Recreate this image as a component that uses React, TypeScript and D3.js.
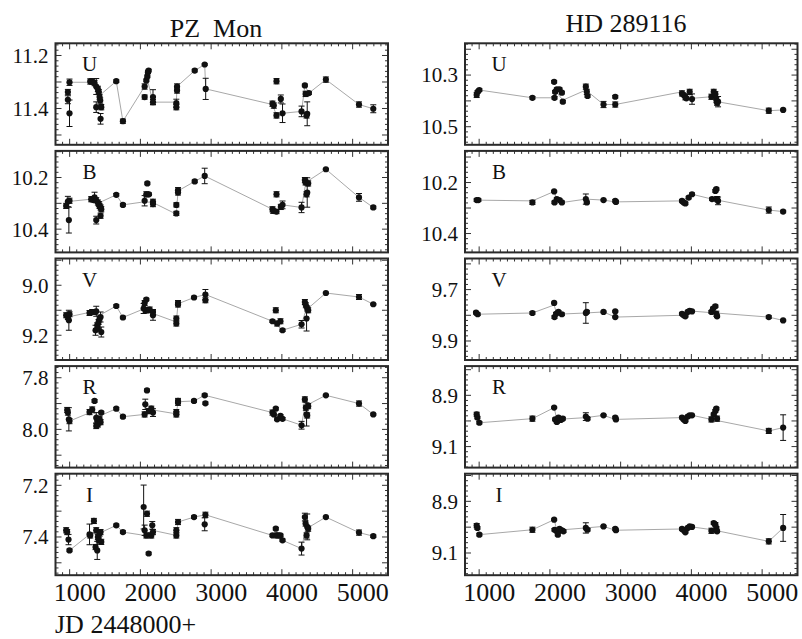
import React from 'react';
import * as d3 from 'd3';

type Pt = [number, number, number]; // [JD-2448000, mag, error]
type LP = [number, number]; // line vertex [JD-2448000, mag]

const JD_DOMAIN: [number, number] = [800, 5500];
const xTickLabels = [1000, 2000, 3000, 4000, 5000];
const bands = ['U', 'B', 'V', 'R', 'I'];
const starNames = ['PZ  Mon', 'HD 289116'];
const xAxisTitle = 'JD 2448000+';

// ---------- PZ Mon ----------
const pzU: Pt[] = [
  [975, 11.338, 0.01], [975, 11.367, 0.015], [998, 11.418, 0.05], [998, 11.301, 0.012],
  [1291, 11.298, 0.01], [1319, 11.298, 0.01], [1352, 11.304, 0.01], [1376, 11.317, 0.03],
  [1399, 11.326, 0.01], [1413, 11.338, 0.01], [1423, 11.357, 0.01], [1432, 11.37, 0.01],
  [1376, 11.395, 0.02], [1447, 11.395, 0.01], [1437, 11.439, 0.02], [1659, 11.297, 0.005],
  [1753, 11.448, 0.008], [2060, 11.317, 0.01], [2084, 11.294, 0.005], [2098, 11.279, 0.005],
  [2107, 11.263, 0.005], [2117, 11.257, 0.005], [2060, 11.357, 0.008], [2178, 11.357, 0.028],
  [2178, 11.376, 0.01], [2518, 11.317, 0.01], [2518, 11.332, 0.01], [2508, 11.38, 0.015],
  [2508, 11.395, 0.01], [2768, 11.257, 0.005], [2909, 11.234, 0.003], [2923, 11.326, 0.04],
  [3867, 11.382, 0.01], [3886, 11.389, 0.01], [3924, 11.297, 0.01], [3924, 11.426, 0.01],
  [3985, 11.364, 0.015], [4009, 11.418, 0.035], [4278, 11.411, 0.02], [4325, 11.313, 0.005],
  [4335, 11.345, 0.01], [4358, 11.42, 0.045], [4382, 11.342, 0.005], [4349, 11.426, 0.01],
  [4622, 11.291, 0.01], [5090, 11.385, 0.01], [5292, 11.401, 0.015],
];
const pzULine: LP[] = [
  [998, 11.301], [1291, 11.301], [1423, 11.351], [1659, 11.297], [1753, 11.448], [2060, 11.317],
  [2107, 11.3], [2178, 11.376], [2508, 11.376], [2518, 11.317], [2768, 11.257], [2909, 11.234],
  [2923, 11.326], [3867, 11.385], [3924, 11.426], [4009, 11.418], [4278, 11.411], [4325, 11.313],
  [4382, 11.342], [4622, 11.291], [5090, 11.385], [5292, 11.401],
];

const pzB: Pt[] = [
  [951, 10.31, 0.01], [975, 10.293, 0.02], [998, 10.29, 0.01], [989, 10.365, 0.05],
  [1305, 10.284, 0.01], [1328, 10.284, 0.01], [1352, 10.277, 0.02], [1376, 10.288, 0.01],
  [1399, 10.297, 0.01], [1413, 10.303, 0.01], [1423, 10.31, 0.01], [1437, 10.316, 0.01],
  [1447, 10.323, 0.01], [1376, 10.365, 0.015], [1437, 10.348, 0.01], [1659, 10.267, 0.005],
  [1753, 10.306, 0.005], [2060, 10.29, 0.02], [2084, 10.265, 0.01], [2098, 10.223, 0.005],
  [2121, 10.265, 0.005], [2178, 10.294, 0.01], [2178, 10.303, 0.01], [2508, 10.339, 0.008],
  [2508, 10.306, 0.008], [2532, 10.249, 0.01], [2532, 10.258, 0.01], [2768, 10.215, 0.005],
  [2909, 10.194, 0.03], [3867, 10.323, 0.01], [3877, 10.329, 0.01], [3924, 10.265, 0.01],
  [3924, 10.332, 0.008], [3985, 10.314, 0.01], [4009, 10.306, 0.015], [4278, 10.316, 0.02],
  [4325, 10.21, 0.01], [4335, 10.219, 0.01], [4349, 10.265, 0.01], [4358, 10.258, 0.057],
  [4372, 10.223, 0.01], [4622, 10.168, 0.003], [5090, 10.277, 0.015], [5292, 10.316, 0.005],
];
const pzBLine: LP[] = [
  [975, 10.293], [1305, 10.284], [1423, 10.297], [1659, 10.267], [1753, 10.306], [2060, 10.294],
  [2178, 10.297], [2508, 10.342], [2532, 10.252], [2768, 10.215], [2909, 10.194], [3867, 10.323],
  [3924, 10.335], [4009, 10.306], [4278, 10.316], [4339, 10.219], [4622, 10.168], [5090, 10.277],
  [5292, 10.316],
];

const pzV: Pt[] = [
  [951, 9.12, 0.01], [975, 9.127, 0.01], [989, 9.14, 0.04], [998, 9.116, 0.01],
  [1281, 9.111, 0.01], [1319, 9.107, 0.01], [1352, 9.107, 0.01], [1376, 9.104, 0.02],
  [1366, 9.18, 0.02], [1390, 9.16, 0.01], [1409, 9.147, 0.01], [1423, 9.133, 0.01],
  [1437, 9.127, 0.02], [1447, 9.187, 0.02], [1399, 9.173, 0.01], [1659, 9.083, 0.005],
  [1753, 9.129, 0.005], [2046, 9.093, 0.02], [2060, 9.071, 0.01], [2084, 9.057, 0.005],
  [2074, 9.1, 0.01], [2107, 9.1, 0.01], [2131, 9.097, 0.01], [2178, 9.107, 0.01],
  [2178, 9.12, 0.02], [2508, 9.133, 0.01], [2508, 9.153, 0.01], [2532, 9.071, 0.01],
  [2532, 9.077, 0.01], [2758, 9.049, 0.005], [2919, 9.037, 0.02], [2919, 9.06, 0.01],
  [3867, 9.144, 0.005], [3914, 9.1, 0.01], [3933, 9.153, 0.01], [3980, 9.144, 0.01],
  [4009, 9.18, 0.005], [4278, 9.156, 0.015], [4325, 9.067, 0.01], [4339, 9.08, 0.01],
  [4349, 9.133, 0.05], [4358, 9.093, 0.01], [4372, 9.1, 0.01], [4622, 9.031, 0.003],
  [5090, 9.047, 0.01], [5292, 9.076, 0.003],
];
const pzVLine: LP[] = [
  [975, 9.127], [1305, 9.107], [1423, 9.12], [1659, 9.083], [1753, 9.129], [2060, 9.093],
  [2178, 9.113], [2508, 9.147], [2532, 9.074], [2758, 9.049], [2919, 9.037], [3867, 9.144],
  [4009, 9.18], [4278, 9.156], [4339, 9.1], [4622, 9.031], [5090, 9.047], [5292, 9.076],
];

const pzR: Pt[] = [
  [965, 7.925, 0.01], [975, 7.935, 0.01], [989, 7.961, 0.045], [998, 7.968, 0.01],
  [1281, 7.933, 0.01], [1319, 7.923, 0.01], [1352, 7.89, 0.005], [1376, 7.955, 0.02],
  [1390, 7.968, 0.01], [1399, 7.981, 0.01], [1376, 7.987, 0.01], [1423, 7.959, 0.01],
  [1447, 7.935, 0.005], [1437, 7.972, 0.01], [1659, 7.92, 0.005], [1753, 7.951, 0.005],
  [2060, 7.942, 0.01], [2069, 7.903, 0.02], [2093, 7.849, 0.005], [2121, 7.929, 0.01],
  [2154, 7.92, 0.01], [2178, 7.935, 0.015], [2508, 7.942, 0.01], [2508, 7.933, 0.01],
  [2532, 7.89, 0.01], [2532, 7.897, 0.01], [2758, 7.89, 0.005], [2909, 7.868, 0.005],
  [2919, 7.899, 0.005], [3867, 7.935, 0.01], [3886, 7.942, 0.005], [3914, 7.92, 0.005],
  [3933, 7.961, 0.005], [3980, 7.948, 0.005], [4009, 7.959, 0.005], [4278, 7.984, 0.015],
  [4325, 7.884, 0.01], [4339, 7.916, 0.01], [4349, 7.942, 0.045], [4358, 7.946, 0.01],
  [4372, 7.91, 0.01], [4622, 7.868, 0.003], [5090, 7.9, 0.01], [5292, 7.942, 0.003],
];
const pzRLine: LP[] = [
  [998, 7.968], [1305, 7.933], [1423, 7.948], [1659, 7.92], [1753, 7.951], [2060, 7.942],
  [2107, 7.92], [2178, 7.925], [2508, 7.94], [2532, 7.893], [2758, 7.89], [2909, 7.868],
  [3867, 7.935], [4009, 7.959], [4278, 7.984], [4325, 7.91], [4622, 7.868], [5090, 7.9],
  [5292, 7.942],
];

const pzI: Pt[] = [
  [951, 7.374, 0.01], [965, 7.381, 0.01], [984, 7.41, 0.02], [998, 7.452, 0.005],
  [1281, 7.39, 0.04], [1291, 7.394, 0.01], [1343, 7.338, 0.01], [1366, 7.439, 0.01],
  [1390, 7.452, 0.035], [1376, 7.374, 0.01], [1399, 7.4, 0.01], [1413, 7.413, 0.01],
  [1423, 7.387, 0.01], [1437, 7.381, 0.01], [1447, 7.419, 0.01], [1659, 7.355, 0.005],
  [1753, 7.381, 0.005], [2046, 7.284, 0.085], [2093, 7.31, 0.01], [2060, 7.374, 0.02],
  [2084, 7.394, 0.01], [2117, 7.464, 0.005], [2154, 7.394, 0.01], [2168, 7.355, 0.015],
  [2178, 7.381, 0.01], [2508, 7.394, 0.01], [2508, 7.374, 0.01], [2532, 7.342, 0.01],
  [2758, 7.323, 0.005], [2919, 7.314, 0.01], [2909, 7.351, 0.025], [3867, 7.394, 0.005],
  [3914, 7.368, 0.005], [3933, 7.394, 0.01], [3980, 7.394, 0.005], [4009, 7.413, 0.005],
  [4278, 7.445, 0.025], [4325, 7.323, 0.015], [4335, 7.348, 0.01], [4349, 7.394, 0.01],
  [4358, 7.361, 0.05], [4372, 7.368, 0.01], [4622, 7.323, 0.003], [5090, 7.383, 0.01],
  [5292, 7.397, 0.005],
];
const pzILine: LP[] = [
  [998, 7.452], [1281, 7.39], [1423, 7.385], [1659, 7.355], [1753, 7.381], [2060, 7.394],
  [2168, 7.374], [2508, 7.394], [2532, 7.342], [2758, 7.323], [2919, 7.314], [3867, 7.394],
  [4009, 7.413], [4278, 7.445], [4335, 7.37], [4622, 7.323], [5090, 7.383], [5292, 7.397],
];

// ---------- HD 289116 ----------
const hdU: Pt[] = [
  [965, 10.377, 0.01], [979, 10.365, 0.005], [1003, 10.358, 0.005], [1753, 10.388, 0.005],
  [2060, 10.326, 0.005], [2065, 10.388, 0.005], [2074, 10.365, 0.005], [2098, 10.355, 0.005],
  [2136, 10.355, 0.005], [2169, 10.368, 0.005], [2183, 10.403, 0.005], [2508, 10.345, 0.01],
  [2522, 10.365, 0.01], [2532, 10.381, 0.005], [2758, 10.414, 0.012], [2924, 10.384, 0.005],
  [2924, 10.414, 0.01], [3867, 10.371, 0.01], [3891, 10.377, 0.005], [3915, 10.386, 0.01],
  [3929, 10.39, 0.005], [3976, 10.365, 0.01], [4009, 10.393, 0.02], [4283, 10.384, 0.01],
  [4316, 10.365, 0.01], [4339, 10.374, 0.01], [4353, 10.397, 0.01], [4363, 10.407, 0.01],
  [4377, 10.403, 0.02], [5094, 10.438, 0.01], [5297, 10.435, 0.003],
];
const hdULine: LP[] = [
  [1003, 10.358], [1753, 10.388], [2065, 10.388], [2098, 10.368], [2183, 10.397], [2508, 10.358],
  [2758, 10.414], [2924, 10.414], [3867, 10.365], [3976, 10.377], [4009, 10.39], [4283, 10.384],
  [4363, 10.403], [5094, 10.438], [5297, 10.435],
];

const hdB: Pt[] = [
  [965, 10.269, 0.005], [989, 10.269, 0.005], [1753, 10.278, 0.008], [2060, 10.235, 0.003],
  [2065, 10.278, 0.005], [2098, 10.265, 0.005], [2136, 10.269, 0.005], [2169, 10.278, 0.005],
  [2508, 10.265, 0.02], [2522, 10.278, 0.005], [2758, 10.269, 0.003], [2924, 10.272, 0.005],
  [2933, 10.276, 0.005], [3867, 10.272, 0.005], [3891, 10.278, 0.005], [3915, 10.282, 0.005],
  [3962, 10.259, 0.005], [4009, 10.246, 0.005], [4292, 10.265, 0.005], [4339, 10.233, 0.005],
  [4353, 10.226, 0.005], [4363, 10.265, 0.01], [4377, 10.272, 0.015], [5094, 10.308, 0.012],
  [5297, 10.314, 0.005],
];
const hdBLine: LP[] = [
  [965, 10.269], [1753, 10.272], [2060, 10.235], [2098, 10.272], [2183, 10.278], [2508, 10.265],
  [2758, 10.269], [2924, 10.276], [3867, 10.272], [4009, 10.246], [4292, 10.265], [5094, 10.308],
  [5297, 10.314],
];

const hdV: Pt[] = [
  [956, 9.79, 0.005], [979, 9.796, 0.005], [1753, 9.791, 0.005], [2060, 9.752, 0.003],
  [2065, 9.807, 0.005], [2088, 9.794, 0.005], [2121, 9.787, 0.005], [2169, 9.796, 0.005],
  [2508, 9.791, 0.04], [2522, 9.787, 0.005], [2758, 9.787, 0.003], [2924, 9.785, 0.003],
  [2924, 9.807, 0.003], [3867, 9.794, 0.005], [3891, 9.8, 0.005], [3915, 9.804, 0.003],
  [3948, 9.787, 0.003], [3976, 9.783, 0.003], [4009, 9.785, 0.003], [4283, 9.787, 0.005],
  [4306, 9.774, 0.005], [4339, 9.765, 0.005], [4353, 9.794, 0.01], [4363, 9.804, 0.005],
  [5094, 9.807, 0.005], [5297, 9.82, 0.003],
];
const hdVLine: LP[] = [
  [965, 9.796], [1753, 9.791], [2060, 9.76], [2098, 9.796], [2508, 9.791], [2758, 9.787],
  [2924, 9.807], [3867, 9.8], [3976, 9.783], [4292, 9.79], [5094, 9.807], [5297, 9.82],
];

const hdR: Pt[] = [
  [965, 8.974, 0.008], [975, 8.987, 0.005], [1003, 9.007, 0.005], [1753, 8.991, 0.01],
  [2060, 8.948, 0.003], [2074, 8.994, 0.005], [2098, 9.004, 0.005], [2121, 8.987, 0.005],
  [2154, 8.996, 0.005], [2183, 8.991, 0.005], [2508, 8.983, 0.015], [2532, 8.991, 0.005],
  [2758, 8.978, 0.003], [2924, 8.987, 0.005], [2933, 8.994, 0.005], [3867, 8.987, 0.005],
  [3891, 8.994, 0.005], [3915, 9.0, 0.003], [3948, 8.983, 0.003], [3976, 8.978, 0.003],
  [4009, 8.978, 0.003], [4283, 8.994, 0.01], [4316, 8.974, 0.005], [4339, 8.961, 0.005],
  [4353, 8.952, 0.005], [4363, 8.991, 0.01], [5094, 9.039, 0.01], [5297, 9.026, 0.05],
];
const hdRLine: LP[] = [
  [1003, 9.007], [1753, 8.991], [2060, 8.948], [2098, 8.994], [2508, 8.987], [2758, 8.978],
  [2924, 8.994], [3867, 8.987], [4009, 8.978], [4283, 8.994], [5094, 9.039], [5297, 9.026],
];

const hdI: Pt[] = [
  [965, 8.994, 0.008], [975, 9.003, 0.005], [1003, 9.029, 0.005], [1753, 9.01, 0.01],
  [2060, 8.971, 0.003], [2065, 9.01, 0.005], [2098, 9.016, 0.005], [2112, 9.029, 0.005],
  [2136, 9.007, 0.005], [2169, 9.012, 0.005], [2192, 9.016, 0.005], [2508, 9.003, 0.02],
  [2532, 9.01, 0.005], [2758, 8.997, 0.003], [2924, 9.007, 0.005], [2933, 9.012, 0.005],
  [3867, 9.007, 0.005], [3891, 9.012, 0.005], [3915, 9.02, 0.003], [3948, 9.003, 0.003],
  [3976, 8.997, 0.003], [4009, 8.999, 0.003], [4283, 9.014, 0.01], [4316, 8.984, 0.005],
  [4339, 8.99, 0.008], [4353, 9.003, 0.005], [4363, 9.016, 0.005], [5094, 9.055, 0.01],
  [5297, 9.003, 0.052],
];
const hdILine: LP[] = [
  [1003, 9.029], [1753, 9.01], [2060, 8.971], [2098, 9.012], [2508, 9.003], [2758, 8.997],
  [2924, 9.012], [3867, 9.007], [4009, 8.999], [4292, 9.01], [5094, 9.055], [5297, 9.003],
];

// y-axis ranges (magnitudes, inverted: smaller at top) and labelled ticks
const pzYDomains: [number, number][] = [
  [11.154, 11.537], [10.097, 10.49], [8.893, 9.299], [7.755, 8.148], [7.155, 7.548],
];
const pzYLabels: number[][] = [[11.2, 11.4], [10.2, 10.4], [9.0, 9.2], [7.8, 8.0], [7.2, 7.4]];
const hdYDomains: [number, number][] = [
  [10.177, 10.57], [10.076, 10.474], [9.579, 9.974], [8.786, 9.182], [8.793, 9.186],
];
const hdYLabels: number[][] = [[10.3, 10.5], [10.2, 10.4], [9.7, 9.9], [8.9, 9.1], [8.9, 9.1]];

const pzPoints = [pzU, pzB, pzV, pzR, pzI];
const pzLines = [pzULine, pzBLine, pzVLine, pzRLine, pzILine];
const hdPoints = [hdU, hdB, hdV, hdR, hdI];
const hdLines = [hdULine, hdBLine, hdVLine, hdRLine, hdILine];

// ---------- layout ----------
const W = 802;
const H = 639;
const FONT = 'Liberation Serif, Times New Roman, DejaVu Serif, serif';
const colX = [55.5, 465];
const colW = 332.5;
const panelTop0 = 43.3;
const panelStep = 107.6;
const panelH = 101.5;

interface PanelProps {
  x0: number; y0: number; domainY: [number, number]; labels: number[];
  band: string; pts: Pt[]; line: LP[]; showX: boolean;
}

function Panel({ x0, y0, domainY, labels, band, pts, line, showX }: PanelProps) {
  const xs = d3.scaleLinear().domain(JD_DOMAIN).range([x0, x0 + colW]);
  const ys = d3.scaleLinear().domain(domainY).range([y0, y0 + panelH]);
  const path = d3.line<LP>().x(d => xs(d[0])).y(d => ys(d[1]))(line) || '';

  const xt: { v: number; major: boolean }[] = [];
  for (let k = Math.ceil(JD_DOMAIN[0] / 100); k <= Math.floor(JD_DOMAIN[1] / 100); k++) {
    xt.push({ v: k * 100, major: k % 10 === 0 });
  }
  const yt: { v: number; major: boolean }[] = [];
  for (let k = Math.ceil(domainY[0] / 0.02 - 1e-6); k <= Math.floor(domainY[1] / 0.02 + 1e-6); k++) {
    yt.push({ v: k * 0.02, major: k % 5 === 0 });
  }
  const bottom = y0 + panelH;
  const right = x0 + colW;
  const tickCol = '#333';

  return (
    <g>
      <rect x={x0} y={y0} width={colW} height={panelH} fill="#fff" />
      <path d={path} fill="none" stroke="#a8a8a8" strokeWidth={1} />
      {pts.map((p, i) => {
        const cx = xs(p[0]);
        const y1 = ys(p[1] - p[2]);
        const y2 = ys(p[1] + p[2]);
        return (
          <g key={'e' + i} stroke="#111" strokeWidth={1}>
            <line x1={cx} x2={cx} y1={y1} y2={y2} />
            <line x1={cx - 3} x2={cx + 3} y1={y1} y2={y1} />
            <line x1={cx - 3} x2={cx + 3} y1={y2} y2={y2} />
          </g>
        );
      })}
      {pts.map((p, i) => (
        <circle key={'p' + i} cx={xs(p[0])} cy={ys(p[1])} r={3.1} fill="#111" />
      ))}
      {xt.map((t, i) => {
        const len = t.major ? 6 : 3;
        const x = xs(t.v);
        return (
          <g key={'xt' + i} stroke={tickCol} strokeWidth={1}>
            <line x1={x} x2={x} y1={bottom} y2={bottom - len} />
            <line x1={x} x2={x} y1={y0} y2={y0 + len} />
          </g>
        );
      })}
      {yt.map((t, i) => {
        const len = t.major ? 6 : 3;
        const y = ys(t.v);
        return (
          <g key={'yt' + i} stroke={tickCol} strokeWidth={1}>
            <line x1={x0} x2={x0 + len} y1={y} y2={y} />
            <line x1={right} x2={right - len} y1={y} y2={y} />
          </g>
        );
      })}
      <rect x={x0} y={y0} width={colW} height={panelH} fill="none" stroke="#2a2a2a" strokeWidth={2} />
      {labels.map((v, i) => (
        <text key={'yl' + i} x={x0 - 7} y={ys(v)} dy="0.35em" textAnchor="end"
          fontFamily={FONT} fontSize={21} fill="#111">{v.toFixed(1)}</text>
      ))}
      <text x={x0 + 34} y={y0 + 28} textAnchor="middle" fontFamily={FONT} fontSize={21} fill="#111">{band}</text>
      {showX && xTickLabels.map((v, i) => (
        <text key={'xl' + i} x={xs(v) + 10} y={bottom + 26} textAnchor="middle"
          fontFamily={FONT} fontSize={26} fill="#111">{v}</text>
      ))}
    </g>
  );
}

export default function App() {
  return (
    <svg width={W} height={H} viewBox={`0 0 ${W} ${H}`}
      style={{ display: 'block', background: '#fff', position: 'absolute', left: 0, top: 0 }}>
      <text x={216} y={37} textAnchor="middle" fontFamily={FONT} fontSize={26} fill="#111"
        style={{ whiteSpace: 'pre' }}>{starNames[0]}</text>
      <text x={626} y={32} textAnchor="middle" fontFamily={FONT} fontSize={26} fill="#111">{starNames[1]}</text>
      {bands.map((b, i) => (
        <Panel key={'pz' + b} x0={colX[0]} y0={panelTop0 + i * panelStep} domainY={pzYDomains[i]}
          labels={pzYLabels[i]} band={b} pts={pzPoints[i]} line={pzLines[i]} showX={i === 4} />
      ))}
      {bands.map((b, i) => (
        <Panel key={'hd' + b} x0={colX[1]} y0={panelTop0 + i * panelStep} domainY={hdYDomains[i]}
          labels={hdYLabels[i]} band={b} pts={hdPoints[i]} line={hdLines[i]} showX={i === 4} />
      ))}
      <text x={55} y={633} fontFamily={FONT} fontSize={26} fill="#111">{xAxisTitle}</text>
    </svg>
  );
}
